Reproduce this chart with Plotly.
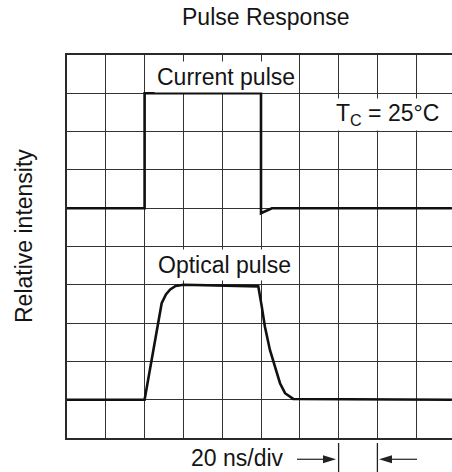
import plotly.graph_objects as go

# ---- data (grid divisions; x: 20 ns/div, y: relative intensity divisions) ----
current_x = [0, 2.0, 2.0, 5.0, 5.0, 5.28, 9.92]
current_y = [6, 6, 9, 9, 5.87, 6, 6]

optical_x = [0, 2.0, 2.44, 2.55, 2.66, 2.80, 3.0, 4.93, 5.02, 5.10, 5.23, 5.36, 5.49, 5.62, 5.83, 9.92]
optical_y = [1.0, 1.0, 3.52, 3.75, 3.88, 3.97, 4.0, 3.96, 3.43, 2.91, 2.30, 1.86, 1.43, 1.17, 1.02, 1.0]

title_text = "Pulse Response"
y_label = "Relative intensity"
current_label = "Current pulse"
optical_label = "Optical pulse"
temp_label = "T<sub>C</sub> = 25°C"
scale_label = "20 ns/div"
scale_marks = [7, 8]

W, H = 452, 472
L, R, T, B = 67, 0, 55, 34
XMAX = (W - L - R) / 38.8
YMAX = 10

FONT = "Liberation Sans, Arial, Helvetica, sans-serif"
TXT = "#141414"

fig = go.Figure()
fig.add_trace(go.Scatter(x=current_x, y=current_y, mode="lines",
                         line=dict(color="#111111", width=2.6), hoverinfo="skip"))
fig.add_trace(go.Scatter(x=optical_x, y=optical_y, mode="lines",
                         line=dict(color="#111111", width=2.6), hoverinfo="skip"))

axis_common = dict(showticklabels=False, ticks="", zeroline=False,
                   showgrid=True, gridcolor="#333333", gridwidth=1, dtick=1,
                   showline=True, linecolor="#2a2a2a", linewidth=2)
fig.update_xaxes(range=[0, XMAX], tick0=0, mirror=True, **axis_common)
fig.update_yaxes(range=[0, YMAX], tick0=0, **axis_common)

pw = W - L - R
ph = H - T - B


def px(xp):
    return (xp - L) / pw


def py(yp):
    return (H - B - yp) / ph


ann = []
ann.append(dict(text=title_text, xref="paper", yref="paper",
                x=px(265.5), y=py(17),
                showarrow=False, xanchor="center", yanchor="middle",
                font=dict(size=23, color=TXT, family=FONT)))
ann.append(dict(text=y_label, xref="paper", yref="paper",
                x=px(24), y=py(236),
                textangle=-90, showarrow=False, xanchor="center", yanchor="middle",
                font=dict(size=23, color=TXT, family=FONT)))
ann.append(dict(text=current_label, x=4.10, y=9.42, showarrow=False,
                xanchor="center", yanchor="middle", bgcolor="white", borderpad=2,
                font=dict(size=23, color=TXT, family=FONT)))
ann.append(dict(text=optical_label, x=4.07, y=4.52, showarrow=False,
                xanchor="center", yanchor="middle", bgcolor="white", borderpad=2,
                font=dict(size=23, color=TXT, family=FONT)))
ann.append(dict(text=temp_label, x=8.26, y=8.45, showarrow=False,
                xanchor="center", yanchor="middle", bgcolor="white", borderpad=1,
                font=dict(size=23, color=TXT, family=FONT)))
ann.append(dict(text=scale_label, xref="paper", yref="paper",
                x=px(237), y=py(458),
                showarrow=False, xanchor="center", yanchor="middle",
                font=dict(size=23, color=TXT, family=FONT)))

shapes = []
for m in scale_marks:
    shapes.append(dict(type="line", xref="paper", yref="paper",
                       x0=m / XMAX, x1=m / XMAX,
                       y0=py(443), y1=py(472),
                       line=dict(color="#222222", width=1.3)))

ay = 459.3
# right-pointing arrow (tail -> head at left mark)
shapes.append(dict(type="line", xref="paper", yref="paper",
                   x0=px(297), x1=px(325), y0=py(ay), y1=py(ay),
                   line=dict(color="#333333", width=1.3)))
shapes.append(dict(type="path", xref="paper", yref="paper",
                   path=f"M {px(336)} {py(ay)} L {px(323)} {py(ay - 4)} L {px(323)} {py(ay + 4)} Z",
                   fillcolor="#222222", line=dict(width=0)))
# left-pointing arrow (tail -> head at right mark)
shapes.append(dict(type="line", xref="paper", yref="paper",
                   x0=px(391), x1=px(417), y0=py(ay), y1=py(ay),
                   line=dict(color="#333333", width=1.3)))
shapes.append(dict(type="path", xref="paper", yref="paper",
                   path=f"M {px(379)} {py(ay)} L {px(392)} {py(ay - 4)} L {px(392)} {py(ay + 4)} Z",
                   fillcolor="#222222", line=dict(width=0)))

fig.update_layout(width=W, height=H, margin=dict(l=L, r=R, t=T, b=B),
                  paper_bgcolor="white", plot_bgcolor="white",
                  showlegend=False, annotations=ann, shapes=shapes,
                  font=dict(family=FONT, color=TXT))

fig.write_html("out.html", config={"displayModeBar": False},
               post_script="document.body.style.margin='0';document.body.style.overflow='hidden';")
